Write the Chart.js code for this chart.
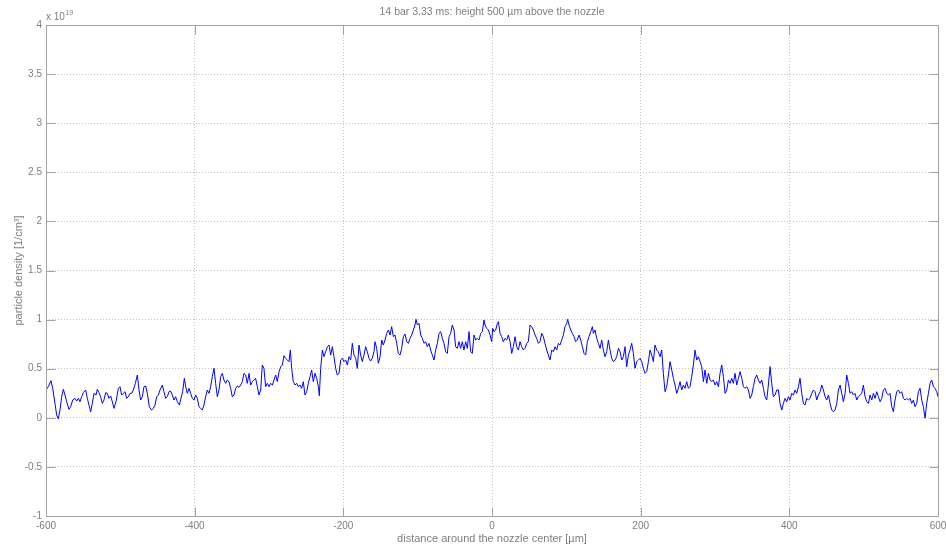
<!DOCTYPE html>
<html>
<head>
<meta charset="utf-8">
<script src="https://cdn.jsdelivr.net/npm/chart.js@4"></script>
<style>
  html, body { margin: 0; padding: 0; background: #ffffff; }
  #c { display: block; }
</style>
</head>
<body>
<canvas id="c" width="946" height="545"></canvas>
<script>
// Radial position across the jet, in µm
const positionUm = [
  -600.0, -596.9, -593.3, -591.0, -587.9, -585.7, -583.4, -581.2, -578.9, -576.7,
  -574.4, -572.2, -569.1, -566.8, -564.1, -561.0, -558.7, -556.5, -554.3, -552.0,
  -549.8, -546.6, -544.4, -542.2, -539.9, -537.7, -535.4, -532.7, -531.0, -528.7,
  -526.5, -524.2, -522.0, -519.7, -517.5, -515.3, -513.0, -510.8, -508.5, -505.8,
  -502.7, -500.5, -498.2, -496.0, -493.7, -491.5, -489.2, -487.0, -484.8, -482.5,
  -479.8, -477.1, -474.9, -472.7, -470.4, -468.2, -465.9, -463.7, -461.0, -457.9,
  -455.6, -453.4, -451.1, -448.9, -446.6, -443.5, -441.3, -439.0, -436.8, -434.5,
  -432.3, -430.1, -427.8, -425.6, -423.3, -420.6, -418.4, -416.2, -413.9, -412.1,
  -409.9, -407.6, -405.4, -403.2, -400.9, -398.7, -396.4, -394.2, -391.9, -389.7,
  -387.5, -385.2, -383.0, -380.7, -378.5, -376.3, -374.0, -371.8, -369.5, -367.3,
  -365.0, -362.8, -360.6, -358.3, -356.1, -353.8, -351.6, -349.4, -347.1, -344.9,
  -342.6, -340.4, -338.1, -335.9, -333.7, -331.4, -329.2, -326.9, -324.7, -322.4,
  -320.2, -318.0, -315.7, -313.5, -311.2, -309.0, -306.8, -304.5, -302.2, -300.0,
  -297.8, -295.5, -293.3, -291.0, -288.8, -286.5, -284.3, -282.1, -279.8, -277.6,
  -275.3, -273.1, -271.3, -269.5, -267.3, -265.0, -262.8, -260.5, -258.3, -256.1,
  -253.8, -251.6, -249.3, -247.1, -244.8, -242.6, -240.4, -238.1, -235.9, -233.6,
  -232.3, -230.5, -228.2, -226.0, -223.8, -221.5, -219.3, -217.0, -214.8, -212.6,
  -210.3, -208.1, -205.8, -203.6, -201.3, -199.1, -196.9, -194.6, -192.4, -190.1,
  -187.9, -185.7, -183.4, -181.2, -178.9, -176.7, -174.5, -172.2, -170.0, -167.7,
  -165.5, -163.3, -161.0, -158.8, -157.4, -155.1, -152.9, -150.6, -148.4, -146.2,
  -143.9, -141.7, -139.4, -137.2, -135.0, -132.7, -130.5, -128.2, -126.0, -123.7,
  -121.5, -119.3, -117.0, -114.8, -112.5, -110.3, -108.1, -105.8, -103.6, -102.2,
  -100.4, -98.2, -95.9, -93.7, -91.5, -89.2, -87.0, -84.7, -82.5, -80.3,
  -78.0, -75.8, -73.5, -71.3, -69.0, -66.8, -64.6, -62.3, -60.1, -57.8,
  -55.6, -53.4, -51.1, -48.9, -46.6, -44.4, -42.2, -39.9, -37.7, -35.4,
  -33.2, -30.9, -28.7, -26.5, -24.2, -22.0, -19.7, -17.5, -15.2, -13.0,
  -10.8, -9.4, -7.1, -4.9, -2.6, -0.4, 0.9, 2.7, 5.0, 7.2,
  8.6, 10.8, 13.0, 15.3, 17.5, 19.8, 22.0, 24.3, 26.5, 28.7,
  31.0, 33.2, 35.5, 37.7, 39.9, 42.2, 44.4, 46.7, 48.9, 51.2,
  53.4, 55.6, 57.9, 60.1, 62.4, 64.6, 66.9, 69.1, 71.3, 73.6,
  75.8, 78.1, 80.3, 82.5, 84.8, 87.0, 89.3, 91.5, 93.8, 96.0,
  98.2, 100.5, 101.8, 103.6, 105.9, 108.1, 110.3, 112.6, 114.8, 117.1,
  119.3, 121.6, 123.8, 126.0, 128.3, 130.5, 132.8, 135.0, 136.4, 138.6,
  140.9, 143.1, 145.4, 147.6, 149.8, 152.1, 154.3, 156.6, 158.8, 161.0,
  163.3, 165.5, 167.8, 170.0, 172.3, 174.5, 176.7, 179.0, 181.2, 183.5,
  185.7, 187.9, 190.2, 192.4, 194.7, 196.9, 199.2, 201.4, 203.6, 205.9,
  208.1, 210.4, 212.6, 214.9, 217.1, 219.3, 221.6, 223.8, 226.1, 228.3,
  230.5, 232.8, 235.0, 237.3, 239.5, 241.8, 244.0, 246.2, 248.5, 250.7,
  253.0, 255.2, 257.5, 259.7, 261.9, 264.2, 266.4, 268.7, 270.9, 273.1,
  275.4, 277.6, 279.9, 282.1, 284.4, 286.6, 288.9, 291.1, 293.4, 295.6,
  297.8, 300.1, 302.3, 304.6, 306.8, 309.0, 311.3, 313.5, 315.8, 318.0,
  320.3, 322.5, 324.7, 327.0, 329.2, 331.5, 333.7, 336.0, 338.2, 340.4,
  342.7, 344.9, 347.2, 349.4, 351.6, 353.9, 356.1, 358.4, 360.6, 362.9,
  365.1, 367.3, 369.6, 371.8, 374.1, 376.3, 378.5, 380.8, 383.0, 385.3,
  387.5, 389.8, 392.0, 394.2, 396.5, 398.7, 401.0, 403.2, 405.5, 407.7,
  409.9, 412.2, 414.4, 416.7, 418.9, 421.1, 423.4, 425.6, 427.9, 430.1,
  432.4, 434.6, 436.9, 439.1, 441.4, 443.6, 445.8, 448.1, 450.3, 452.6,
  454.8, 457.0, 459.3, 461.5, 463.8, 466.0, 468.3, 470.5, 472.7, 475.0,
  477.2, 479.5, 481.7, 483.9, 486.2, 488.4, 490.7, 492.9, 495.2, 497.4,
  499.6, 501.9, 504.1, 506.4, 508.6, 510.9, 513.1, 515.3, 517.6, 519.8,
  522.1, 524.3, 526.5, 528.8, 531.0, 533.3, 535.5, 537.8, 540.0, 542.2,
  544.5, 546.7, 549.0, 551.2, 553.4, 555.7, 557.9, 560.2, 562.4, 564.7,
  566.9, 569.1, 571.4, 573.6, 575.9, 578.1, 580.3, 582.6, 584.8, 587.1,
  589.3, 591.5, 593.8, 596.0, 598.3, 600.0
];

// Particle density in units of 1e19 per cm³
const density = [
  0.283, 0.317, 0.378, 0.300, 0.147, 0.029, -0.012, 0.079, 0.215, 0.290,
  0.232, 0.164, 0.086, 0.113, 0.181, 0.198, 0.171, 0.198, 0.164, 0.215,
  0.256, 0.283, 0.198, 0.130, 0.062, 0.147, 0.249, 0.232, 0.290, 0.256,
  0.215, 0.147, 0.181, 0.256, 0.249, 0.198, 0.222, 0.164, 0.096, 0.164,
  0.300, 0.317, 0.232, 0.249, 0.266, 0.198, 0.215, 0.249, 0.249, 0.283,
  0.351, 0.436, 0.283, 0.181, 0.215, 0.317, 0.324, 0.249, 0.113, 0.079,
  0.096, 0.130, 0.215, 0.232, 0.283, 0.334, 0.266, 0.198, 0.215, 0.266,
  0.272, 0.232, 0.181, 0.215, 0.164, 0.130, 0.198, 0.266, 0.402, 0.317,
  0.249, 0.300, 0.249, 0.198, 0.181, 0.232, 0.198, 0.113, 0.096, 0.079,
  0.130, 0.215, 0.283, 0.249, 0.317, 0.419, 0.504, 0.351, 0.215, 0.283,
  0.419, 0.452, 0.385, 0.351, 0.385, 0.368, 0.300, 0.215, 0.232, 0.300,
  0.324, 0.310, 0.334, 0.368, 0.452, 0.436, 0.351, 0.452, 0.334, 0.368,
  0.385, 0.402, 0.317, 0.232, 0.283, 0.538, 0.504, 0.317, 0.351, 0.317,
  0.351, 0.334, 0.385, 0.436, 0.368, 0.470, 0.520, 0.537, 0.633, 0.606,
  0.589, 0.572, 0.690, 0.503, 0.368, 0.334, 0.351, 0.317, 0.334, 0.300,
  0.368, 0.232, 0.266, 0.351, 0.419, 0.487, 0.368, 0.453, 0.402, 0.317,
  0.225, 0.503, 0.690, 0.622, 0.673, 0.724, 0.741, 0.639, 0.724, 0.622,
  0.503, 0.436, 0.453, 0.589, 0.606, 0.572, 0.589, 0.537, 0.622, 0.589,
  0.758, 0.639, 0.606, 0.503, 0.741, 0.639, 0.572, 0.639, 0.724, 0.673,
  0.606, 0.578, 0.606, 0.673, 0.775, 0.707, 0.555, 0.622, 0.792, 0.741,
  0.792, 0.860, 0.894, 0.843, 0.928, 0.826, 0.843, 0.758, 0.656, 0.639,
  0.707, 0.826, 0.853, 0.775, 0.758, 0.809, 0.843, 0.894, 0.945, 1.003,
  0.945, 0.962, 0.843, 0.809, 0.758, 0.775, 0.724, 0.758, 0.690, 0.639,
  0.588, 0.690, 0.758, 0.860, 0.877, 0.809, 0.758, 0.673, 0.656, 0.826,
  0.860, 0.945, 0.894, 0.724, 0.707, 0.775, 0.707, 0.775, 0.690, 0.775,
  0.707, 0.877, 0.673, 0.656, 0.843, 0.792, 0.809, 0.792, 0.860, 0.877,
  0.996, 0.945, 0.911, 0.894, 0.843, 0.775, 0.911, 0.877, 0.894, 0.962,
  0.979, 0.860, 0.826, 0.775, 0.809, 0.792, 0.843, 0.775, 0.656, 0.724,
  0.826, 0.724, 0.690, 0.775, 0.724, 0.690, 0.707, 0.758, 0.775, 0.945,
  0.928, 0.894, 0.843, 0.809, 0.758, 0.775, 0.860, 0.826, 0.758, 0.690,
  0.639, 0.588, 0.690, 0.673, 0.724, 0.690, 0.758, 0.741, 0.792, 0.843,
  0.928, 0.962, 1.003, 0.945, 0.894, 0.860, 0.826, 0.775, 0.792, 0.843,
  0.792, 0.724, 0.656, 0.639, 0.775, 0.826, 0.877, 0.928, 0.860, 0.894,
  0.809, 0.758, 0.707, 0.792, 0.690, 0.622, 0.673, 0.792, 0.690, 0.606,
  0.572, 0.588, 0.622, 0.707, 0.673, 0.588, 0.622, 0.724, 0.520, 0.639,
  0.690, 0.758, 0.656, 0.504, 0.572, 0.588, 0.606, 0.572, 0.504, 0.453,
  0.470, 0.572, 0.690, 0.639, 0.572, 0.741, 0.690, 0.673, 0.622, 0.690,
  0.453, 0.266, 0.317, 0.436, 0.572, 0.487, 0.402, 0.334, 0.249, 0.300,
  0.368, 0.283, 0.334, 0.300, 0.368, 0.300, 0.317, 0.419, 0.538, 0.690,
  0.588, 0.622, 0.572, 0.520, 0.368, 0.487, 0.351, 0.453, 0.385, 0.368,
  0.385, 0.334, 0.368, 0.317, 0.453, 0.538, 0.419, 0.249, 0.283, 0.385,
  0.351, 0.402, 0.351, 0.453, 0.334, 0.402, 0.470, 0.402, 0.317, 0.300,
  0.317, 0.283, 0.198, 0.232, 0.317, 0.402, 0.436, 0.385, 0.351, 0.385,
  0.300, 0.215, 0.181, 0.334, 0.521, 0.351, 0.215, 0.232, 0.283, 0.283,
  0.147, 0.079, 0.147, 0.198, 0.164, 0.215, 0.181, 0.249, 0.232, 0.283,
  0.249, 0.317, 0.402, 0.249, 0.147, 0.130, 0.198, 0.181, 0.198, 0.249,
  0.283, 0.266, 0.181, 0.232, 0.266, 0.334, 0.283, 0.215, 0.181, 0.232,
  0.147, 0.079, 0.062, 0.079, 0.147, 0.283, 0.334, 0.249, 0.164, 0.249,
  0.436, 0.351, 0.249, 0.266, 0.232, 0.249, 0.181, 0.215, 0.232, 0.249,
  0.334, 0.215, 0.164, 0.147, 0.232, 0.181, 0.249, 0.198, 0.266, 0.215,
  0.164, 0.198, 0.283, 0.300, 0.249, 0.232, 0.249, 0.113, 0.062, 0.181,
  0.266, 0.283, 0.249, 0.266, 0.198, 0.181, 0.198, 0.181, 0.198, 0.147,
  0.181, 0.113, 0.147, 0.266, 0.300, 0.181, 0.113, -0.005, 0.147, 0.249,
  0.351, 0.385, 0.317, 0.300, 0.266, 0.215
];

const xTicks = [-600, -400, -200, 0, 200, 400, 600];
const yTicks = [-1, -0.5, 0, 0.5, 1, 1.5, 2, 2.5, 3, 3.5, 4];

const titleText = '14 bar 3.33 ms: height 500 µm above the nozzle';
const xLabel = 'distance around the nozzle center [µm]';
const yLabel = 'particle density [1/cm³]';
const exponentBase = 'x 10';
const exponentPower = '19';

const FONT = '"Liberation Sans", Arial, Helvetica, sans-serif';
const TEXT = '#7f7f7f';
const AXIS = '#a3a3a3';
const GRID = '#c4c4c4';
const TICK_LEN = 9;

// Solid axes box with inward tick marks on all four sides, the title centred
// over the plot area, and the shared exponent above the value axis
const axesBox = {
  id: 'axesBox',
  afterDatasetsDraw(chart) {
    const { ctx, chartArea: a, scales: { x, y } } = chart;
    ctx.save();
    ctx.strokeStyle = AXIS;
    ctx.lineWidth = 1;
    ctx.beginPath();
    const L = Math.round(a.left) + 0.5, R = Math.round(a.right) + 0.5;
    const T = Math.round(a.top) + 0.5, B = Math.round(a.bottom) + 0.5;
    ctx.rect(L, T, R - L, B - T);
    xTicks.forEach(v => {
      const px = Math.round(x.getPixelForValue(v)) + 0.5;
      ctx.moveTo(px, B); ctx.lineTo(px, B - TICK_LEN);
      ctx.moveTo(px, T); ctx.lineTo(px, T + TICK_LEN);
    });
    yTicks.forEach(v => {
      const py = Math.round(y.getPixelForValue(v)) + 0.5;
      ctx.moveTo(L, py); ctx.lineTo(L + TICK_LEN, py);
      ctx.moveTo(R, py); ctx.lineTo(R - TICK_LEN, py);
    });
    ctx.stroke();

    ctx.fillStyle = TEXT;
    ctx.textBaseline = 'middle';
    ctx.textAlign = 'center';
    ctx.font = '10.5px ' + FONT;
    ctx.fillText(titleText, (a.left + a.right) / 2, 12);

    ctx.textAlign = 'left';
    ctx.textBaseline = 'alphabetic';
    ctx.font = '10px ' + FONT;
    ctx.fillText(exponentBase, a.left, a.top - 5);
    const w = ctx.measureText(exponentBase).width;
    ctx.font = '7px ' + FONT;
    ctx.fillText(exponentPower, a.left + w + 0.5, a.top - 10);
    ctx.restore();
  }
};

const points = positionUm.map((p, i) => ({ x: p, y: density[i] }));

new Chart(document.getElementById('c'), {
  type: 'line',
  data: {
    datasets: [{
      data: points,
      borderColor: '#0000ff',
      borderWidth: 1,
      pointRadius: 0,
      tension: 0,
      fill: false
    }]
  },
  options: {
    responsive: false,
    animation: false,
    devicePixelRatio: 1,
    layout: { padding: { top: 25, right: 8, left: 0, bottom: 0 } },
    plugins: {
      legend: { display: false },
      tooltip: { enabled: false },
      title: { display: false }
    },
    scales: {
      x: {
        type: 'linear',
        min: -600,
        max: 600,
        afterBuildTicks(s) { s.ticks = xTicks.map(v => ({ value: v })); },
        afterFit(s) { s.height = 29; s.paddingLeft = 0; s.paddingRight = 0; },
        grid: { color: GRID, lineWidth: 1, drawTicks: false },
        border: { display: false, dash: [1, 2] },
        ticks: {
          color: TEXT,
          font: { family: FONT, size: 10 },
          padding: 4,
          maxRotation: 0,
          autoSkip: false,
          callback: v => String(v)
        },
        title: {
          display: true,
          text: xLabel,
          color: TEXT,
          font: { family: FONT, size: 11 },
          padding: { top: 0, bottom: -1 }
        }
      },
      y: {
        type: 'linear',
        min: -1,
        max: 4,
        afterBuildTicks(s) { s.ticks = yTicks.map(v => ({ value: v })); },
        afterFit(s) { s.width = 46; s.paddingTop = 0; s.paddingBottom = 0; },
        grid: { color: GRID, lineWidth: 1, drawTicks: false },
        border: { display: false, dash: [1, 2] },
        ticks: {
          color: TEXT,
          font: { family: FONT, size: 10 },
          padding: 4,
          autoSkip: false,
          callback: v => String(v)
        },
        title: {
          display: true,
          text: yLabel,
          color: TEXT,
          font: { family: FONT, size: 11 },
          padding: { top: 12, bottom: 0 }
        }
      }
    }
  },
  plugins: [axesBox]
});
</script>
</body>
</html>
